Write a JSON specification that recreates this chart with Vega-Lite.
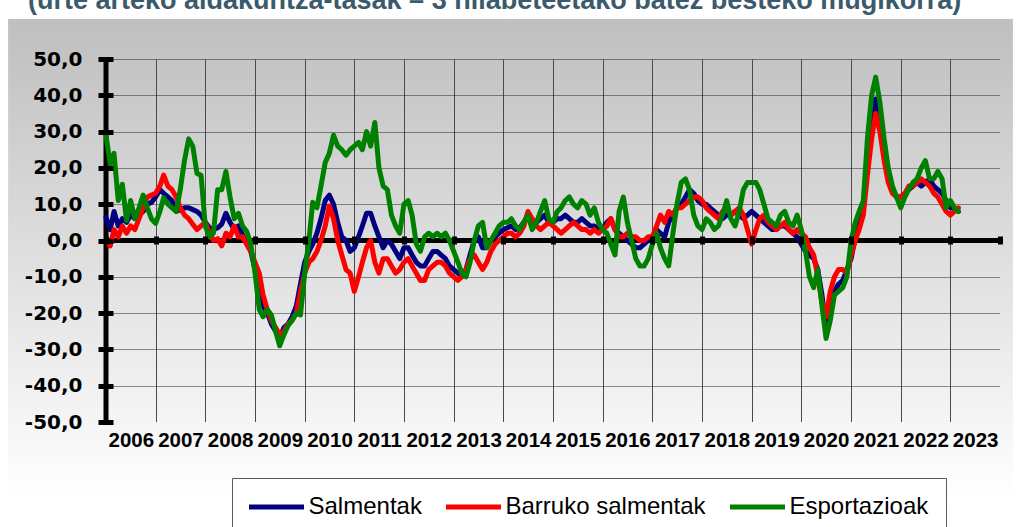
{
"$schema": "https://vega.github.io/schema/vega-lite/v6.json",
"width": 894,
"height": 363,
"autosize": {"type": "none"},
"padding": {"left": 106, "top": 59, "right": 22, "bottom": 105},
"background": "#ffffff",
"config": {
  "view": {"stroke": null, "fill": {"gradient": "linear", "x1": 0, "y1": 0, "x2": 0, "y2": 1, "stops": [{"offset": 0, "color": "#c4c4c4"}, {"offset": 1, "color": "#f5f5f5"}]}},
  "font": "Liberation Sans"
},
"title": {"text": "(urte arteko aldakuntza-tasak – 3 hilabeteetako batez besteko mugikorra)", "anchor": "start", "frame": "group", "dx": -78, "offset": 4, "font": "Liberation Sans", "fontSize": 27, "fontWeight": "bold", "color": "#3b5a6b"},
"datasets": {
"series": [
{"m":"2006-01-01","Salmentak":6.3,"Barruko salmentak":0,"Esportazioak":29},
{"m":"2006-02-01","Salmentak":3,"Barruko salmentak":-1.5,"Esportazioak":21},
{"m":"2006-03-01","Salmentak":8,"Barruko salmentak":3,"Esportazioak":24},
{"m":"2006-04-01","Salmentak":4,"Barruko salmentak":1,"Esportazioak":11},
{"m":"2006-05-01","Salmentak":6,"Barruko salmentak":4,"Esportazioak":15.5},
{"m":"2006-06-01","Salmentak":5,"Barruko salmentak":2,"Esportazioak":5.5},
{"m":"2006-07-01","Salmentak":7,"Barruko salmentak":4,"Esportazioak":11},
{"m":"2006-08-01","Salmentak":6,"Barruko salmentak":3,"Esportazioak":6},
{"m":"2006-09-01","Salmentak":7,"Barruko salmentak":6,"Esportazioak":9},
{"m":"2006-10-01","Salmentak":8,"Barruko salmentak":9,"Esportazioak":12.5},
{"m":"2006-11-01","Salmentak":10,"Barruko salmentak":12,"Esportazioak":9},
{"m":"2006-12-01","Salmentak":10.5,"Barruko salmentak":12.5,"Esportazioak":6},
{"m":"2007-01-01","Salmentak":12,"Barruko salmentak":13,"Esportazioak":4.7},
{"m":"2007-02-01","Salmentak":14,"Barruko salmentak":15,"Esportazioak":8},
{"m":"2007-03-01","Salmentak":13,"Barruko salmentak":18,"Esportazioak":11.8},
{"m":"2007-04-01","Salmentak":12,"Barruko salmentak":15,"Esportazioak":10},
{"m":"2007-05-01","Salmentak":11,"Barruko salmentak":14,"Esportazioak":9},
{"m":"2007-06-01","Salmentak":8,"Barruko salmentak":12,"Esportazioak":8},
{"m":"2007-07-01","Salmentak":8.5,"Barruko salmentak":9,"Esportazioak":14},
{"m":"2007-08-01","Salmentak":9,"Barruko salmentak":7,"Esportazioak":22},
{"m":"2007-09-01","Salmentak":9,"Barruko salmentak":6,"Esportazioak":28},
{"m":"2007-10-01","Salmentak":8.5,"Barruko salmentak":4.5,"Esportazioak":26},
{"m":"2007-11-01","Salmentak":8,"Barruko salmentak":3,"Esportazioak":18.5},
{"m":"2007-12-01","Salmentak":7,"Barruko salmentak":4,"Esportazioak":18},
{"m":"2008-01-01","Salmentak":5,"Barruko salmentak":5,"Esportazioak":4},
{"m":"2008-02-01","Salmentak":3.5,"Barruko salmentak":2,"Esportazioak":1},
{"m":"2008-03-01","Salmentak":3,"Barruko salmentak":0,"Esportazioak":2},
{"m":"2008-04-01","Salmentak":3.5,"Barruko salmentak":0.5,"Esportazioak":14},
{"m":"2008-05-01","Salmentak":4.5,"Barruko salmentak":-1.5,"Esportazioak":14},
{"m":"2008-06-01","Salmentak":7.5,"Barruko salmentak":2,"Esportazioak":19},
{"m":"2008-07-01","Salmentak":5,"Barruko salmentak":1,"Esportazioak":12},
{"m":"2008-08-01","Salmentak":3,"Barruko salmentak":4,"Esportazioak":6},
{"m":"2008-09-01","Salmentak":4,"Barruko salmentak":1,"Esportazioak":7.5},
{"m":"2008-10-01","Salmentak":1.5,"Barruko salmentak":1,"Esportazioak":4},
{"m":"2008-11-01","Salmentak":-1,"Barruko salmentak":-1,"Esportazioak":2.5},
{"m":"2008-12-01","Salmentak":-3,"Barruko salmentak":-3,"Esportazioak":-1},
{"m":"2009-01-01","Salmentak":-8,"Barruko salmentak":-6,"Esportazioak":-9},
{"m":"2009-02-01","Salmentak":-14,"Barruko salmentak":-9,"Esportazioak":-19},
{"m":"2009-03-01","Salmentak":-18,"Barruko salmentak":-15,"Esportazioak":-21},
{"m":"2009-04-01","Salmentak":-20,"Barruko salmentak":-19,"Esportazioak":-19},
{"m":"2009-05-01","Salmentak":-23,"Barruko salmentak":-22,"Esportazioak":-20.5},
{"m":"2009-06-01","Salmentak":-25,"Barruko salmentak":-24,"Esportazioak":-25},
{"m":"2009-07-01","Salmentak":-27,"Barruko salmentak":-26,"Esportazioak":-29},
{"m":"2009-08-01","Salmentak":-24,"Barruko salmentak":-25,"Esportazioak":-26},
{"m":"2009-09-01","Salmentak":-23,"Barruko salmentak":-23,"Esportazioak":-23.4},
{"m":"2009-10-01","Salmentak":-21,"Barruko salmentak":-22,"Esportazioak":-22},
{"m":"2009-11-01","Salmentak":-18,"Barruko salmentak":-20,"Esportazioak":-20},
{"m":"2009-12-01","Salmentak":-12,"Barruko salmentak":-14,"Esportazioak":-20.5},
{"m":"2010-01-01","Salmentak":-6,"Barruko salmentak":-9,"Esportazioak":-9},
{"m":"2010-02-01","Salmentak":-3,"Barruko salmentak":-6,"Esportazioak":0},
{"m":"2010-03-01","Salmentak":-1,"Barruko salmentak":-5,"Esportazioak":10.5},
{"m":"2010-04-01","Salmentak":2,"Barruko salmentak":-3,"Esportazioak":9},
{"m":"2010-05-01","Salmentak":6,"Barruko salmentak":0,"Esportazioak":15},
{"m":"2010-06-01","Salmentak":11,"Barruko salmentak":4,"Esportazioak":21.5},
{"m":"2010-07-01","Salmentak":12.5,"Barruko salmentak":9.5,"Esportazioak":24},
{"m":"2010-08-01","Salmentak":10,"Barruko salmentak":6,"Esportazioak":29},
{"m":"2010-09-01","Salmentak":5,"Barruko salmentak":0,"Esportazioak":26},
{"m":"2010-10-01","Salmentak":1,"Barruko salmentak":-4,"Esportazioak":25},
{"m":"2010-11-01","Salmentak":0,"Barruko salmentak":-8,"Esportazioak":23.5},
{"m":"2010-12-01","Salmentak":-3,"Barruko salmentak":-9,"Esportazioak":25},
{"m":"2011-01-01","Salmentak":-2,"Barruko salmentak":-14,"Esportazioak":26},
{"m":"2011-02-01","Salmentak":1,"Barruko salmentak":-10,"Esportazioak":27},
{"m":"2011-03-01","Salmentak":4,"Barruko salmentak":-6,"Esportazioak":25},
{"m":"2011-04-01","Salmentak":7.5,"Barruko salmentak":-2,"Esportazioak":30},
{"m":"2011-05-01","Salmentak":7.5,"Barruko salmentak":0,"Esportazioak":26},
{"m":"2011-06-01","Salmentak":4,"Barruko salmentak":-6,"Esportazioak":32.5},
{"m":"2011-07-01","Salmentak":1,"Barruko salmentak":-9,"Esportazioak":20},
{"m":"2011-08-01","Salmentak":-2,"Barruko salmentak":-5,"Esportazioak":15},
{"m":"2011-09-01","Salmentak":0,"Barruko salmentak":-5,"Esportazioak":14},
{"m":"2011-10-01","Salmentak":-1,"Barruko salmentak":-7,"Esportazioak":7},
{"m":"2011-11-01","Salmentak":-3,"Barruko salmentak":-9,"Esportazioak":4},
{"m":"2011-12-01","Salmentak":-5,"Barruko salmentak":-8,"Esportazioak":2},
{"m":"2012-01-01","Salmentak":-2,"Barruko salmentak":-6,"Esportazioak":10},
{"m":"2012-02-01","Salmentak":-2,"Barruko salmentak":-5,"Esportazioak":11},
{"m":"2012-03-01","Salmentak":-4,"Barruko salmentak":-7,"Esportazioak":7},
{"m":"2012-04-01","Salmentak":-6,"Barruko salmentak":-9,"Esportazioak":-1},
{"m":"2012-05-01","Salmentak":-7,"Barruko salmentak":-11,"Esportazioak":-3},
{"m":"2012-06-01","Salmentak":-7,"Barruko salmentak":-11,"Esportazioak":1},
{"m":"2012-07-01","Salmentak":-5,"Barruko salmentak":-8,"Esportazioak":2},
{"m":"2012-08-01","Salmentak":-3,"Barruko salmentak":-7,"Esportazioak":1},
{"m":"2012-09-01","Salmentak":-3,"Barruko salmentak":-6,"Esportazioak":2},
{"m":"2012-10-01","Salmentak":-4,"Barruko salmentak":-6,"Esportazioak":1},
{"m":"2012-11-01","Salmentak":-5,"Barruko salmentak":-7,"Esportazioak":2},
{"m":"2012-12-01","Salmentak":-7,"Barruko salmentak":-9,"Esportazioak":0},
{"m":"2013-01-01","Salmentak":-8,"Barruko salmentak":-10,"Esportazioak":-3},
{"m":"2013-02-01","Salmentak":-9,"Barruko salmentak":-11,"Esportazioak":-6},
{"m":"2013-03-01","Salmentak":-10,"Barruko salmentak":-10,"Esportazioak":-9},
{"m":"2013-04-01","Salmentak":-8,"Barruko salmentak":-8,"Esportazioak":-10},
{"m":"2013-05-01","Salmentak":-4,"Barruko salmentak":-5,"Esportazioak":-6},
{"m":"2013-06-01","Salmentak":0,"Barruko salmentak":-4,"Esportazioak":0},
{"m":"2013-07-01","Salmentak":1,"Barruko salmentak":-6,"Esportazioak":4},
{"m":"2013-08-01","Salmentak":-2,"Barruko salmentak":-8,"Esportazioak":5},
{"m":"2013-09-01","Salmentak":-2,"Barruko salmentak":-6,"Esportazioak":-2},
{"m":"2013-10-01","Salmentak":0,"Barruko salmentak":-3,"Esportazioak":0},
{"m":"2013-11-01","Salmentak":1,"Barruko salmentak":-1,"Esportazioak":2},
{"m":"2013-12-01","Salmentak":2,"Barruko salmentak":0,"Esportazioak":4},
{"m":"2014-01-01","Salmentak":3,"Barruko salmentak":1,"Esportazioak":5},
{"m":"2014-02-01","Salmentak":3.5,"Barruko salmentak":2,"Esportazioak":5},
{"m":"2014-03-01","Salmentak":4,"Barruko salmentak":2,"Esportazioak":6},
{"m":"2014-04-01","Salmentak":3,"Barruko salmentak":1,"Esportazioak":4},
{"m":"2014-05-01","Salmentak":3.5,"Barruko salmentak":2,"Esportazioak":3},
{"m":"2014-06-01","Salmentak":5,"Barruko salmentak":4,"Esportazioak":5},
{"m":"2014-07-01","Salmentak":7,"Barruko salmentak":8,"Esportazioak":7},
{"m":"2014-08-01","Salmentak":5,"Barruko salmentak":6,"Esportazioak":3},
{"m":"2014-09-01","Salmentak":5,"Barruko salmentak":4,"Esportazioak":5},
{"m":"2014-10-01","Salmentak":6,"Barruko salmentak":3,"Esportazioak":8},
{"m":"2014-11-01","Salmentak":7,"Barruko salmentak":4,"Esportazioak":11},
{"m":"2014-12-01","Salmentak":5,"Barruko salmentak":5,"Esportazioak":6},
{"m":"2015-01-01","Salmentak":5,"Barruko salmentak":4,"Esportazioak":5},
{"m":"2015-02-01","Salmentak":6,"Barruko salmentak":3,"Esportazioak":8},
{"m":"2015-03-01","Salmentak":6,"Barruko salmentak":2,"Esportazioak":9},
{"m":"2015-04-01","Salmentak":7,"Barruko salmentak":3,"Esportazioak":11},
{"m":"2015-05-01","Salmentak":6,"Barruko salmentak":4,"Esportazioak":12},
{"m":"2015-06-01","Salmentak":5,"Barruko salmentak":5,"Esportazioak":10},
{"m":"2015-07-01","Salmentak":5,"Barruko salmentak":4,"Esportazioak":9},
{"m":"2015-08-01","Salmentak":6,"Barruko salmentak":3,"Esportazioak":11},
{"m":"2015-09-01","Salmentak":5,"Barruko salmentak":3,"Esportazioak":10},
{"m":"2015-10-01","Salmentak":4,"Barruko salmentak":2,"Esportazioak":7},
{"m":"2015-11-01","Salmentak":4,"Barruko salmentak":3,"Esportazioak":9},
{"m":"2015-12-01","Salmentak":3,"Barruko salmentak":2,"Esportazioak":5},
{"m":"2016-01-01","Salmentak":3,"Barruko salmentak":3,"Esportazioak":3},
{"m":"2016-02-01","Salmentak":5,"Barruko salmentak":4,"Esportazioak":2},
{"m":"2016-03-01","Salmentak":6,"Barruko salmentak":6,"Esportazioak":-1},
{"m":"2016-04-01","Salmentak":3,"Barruko salmentak":3,"Esportazioak":-4},
{"m":"2016-05-01","Salmentak":2,"Barruko salmentak":1,"Esportazioak":8},
{"m":"2016-06-01","Salmentak":1,"Barruko salmentak":1,"Esportazioak":12},
{"m":"2016-07-01","Salmentak":0,"Barruko salmentak":2,"Esportazioak":5},
{"m":"2016-08-01","Salmentak":-1,"Barruko salmentak":1,"Esportazioak":0},
{"m":"2016-09-01","Salmentak":-2,"Barruko salmentak":1,"Esportazioak":-5},
{"m":"2016-10-01","Salmentak":-2,"Barruko salmentak":0,"Esportazioak":-7},
{"m":"2016-11-01","Salmentak":-1,"Barruko salmentak":0,"Esportazioak":-7},
{"m":"2016-12-01","Salmentak":0,"Barruko salmentak":1,"Esportazioak":-5},
{"m":"2017-01-01","Salmentak":1,"Barruko salmentak":1,"Esportazioak":-1},
{"m":"2017-02-01","Salmentak":3,"Barruko salmentak":4,"Esportazioak":2},
{"m":"2017-03-01","Salmentak":2,"Barruko salmentak":7,"Esportazioak":-2},
{"m":"2017-04-01","Salmentak":1,"Barruko salmentak":5,"Esportazioak":-5},
{"m":"2017-05-01","Salmentak":5,"Barruko salmentak":8,"Esportazioak":-7},
{"m":"2017-06-01","Salmentak":7,"Barruko salmentak":7,"Esportazioak":2},
{"m":"2017-07-01","Salmentak":9,"Barruko salmentak":9,"Esportazioak":10},
{"m":"2017-08-01","Salmentak":10,"Barruko salmentak":9,"Esportazioak":16},
{"m":"2017-09-01","Salmentak":12,"Barruko salmentak":10,"Esportazioak":17},
{"m":"2017-10-01","Salmentak":14,"Barruko salmentak":11,"Esportazioak":14},
{"m":"2017-11-01","Salmentak":13,"Barruko salmentak":12,"Esportazioak":7},
{"m":"2017-12-01","Salmentak":11,"Barruko salmentak":12,"Esportazioak":4},
{"m":"2018-01-01","Salmentak":10,"Barruko salmentak":11,"Esportazioak":3},
{"m":"2018-02-01","Salmentak":10,"Barruko salmentak":9,"Esportazioak":6},
{"m":"2018-03-01","Salmentak":9,"Barruko salmentak":8,"Esportazioak":5},
{"m":"2018-04-01","Salmentak":8,"Barruko salmentak":7,"Esportazioak":3},
{"m":"2018-05-01","Salmentak":7,"Barruko salmentak":6,"Esportazioak":4},
{"m":"2018-06-01","Salmentak":6,"Barruko salmentak":8,"Esportazioak":7},
{"m":"2018-07-01","Salmentak":7,"Barruko salmentak":9,"Esportazioak":11},
{"m":"2018-08-01","Salmentak":7,"Barruko salmentak":7,"Esportazioak":6},
{"m":"2018-09-01","Salmentak":8,"Barruko salmentak":8,"Esportazioak":4},
{"m":"2018-10-01","Salmentak":7,"Barruko salmentak":9,"Esportazioak":8},
{"m":"2018-11-01","Salmentak":6,"Barruko salmentak":7,"Esportazioak":14},
{"m":"2018-12-01","Salmentak":7,"Barruko salmentak":3,"Esportazioak":16},
{"m":"2019-01-01","Salmentak":8,"Barruko salmentak":-1,"Esportazioak":16},
{"m":"2019-02-01","Salmentak":7,"Barruko salmentak":3,"Esportazioak":16},
{"m":"2019-03-01","Salmentak":6,"Barruko salmentak":6,"Esportazioak":14},
{"m":"2019-04-01","Salmentak":5,"Barruko salmentak":7,"Esportazioak":10},
{"m":"2019-05-01","Salmentak":4,"Barruko salmentak":5,"Esportazioak":6},
{"m":"2019-06-01","Salmentak":3,"Barruko salmentak":4,"Esportazioak":5},
{"m":"2019-07-01","Salmentak":3,"Barruko salmentak":3,"Esportazioak":4},
{"m":"2019-08-01","Salmentak":4,"Barruko salmentak":4,"Esportazioak":7},
{"m":"2019-09-01","Salmentak":4,"Barruko salmentak":5,"Esportazioak":8},
{"m":"2019-10-01","Salmentak":3,"Barruko salmentak":3,"Esportazioak":5},
{"m":"2019-11-01","Salmentak":2,"Barruko salmentak":2,"Esportazioak":4},
{"m":"2019-12-01","Salmentak":1,"Barruko salmentak":3,"Esportazioak":7},
{"m":"2020-01-01","Salmentak":-1,"Barruko salmentak":2,"Esportazioak":3},
{"m":"2020-02-01","Salmentak":-3,"Barruko salmentak":1,"Esportazioak":-3},
{"m":"2020-03-01","Salmentak":-4,"Barruko salmentak":-2,"Esportazioak":-10},
{"m":"2020-04-01","Salmentak":-5,"Barruko salmentak":-4,"Esportazioak":-13},
{"m":"2020-05-01","Salmentak":-8,"Barruko salmentak":-10,"Esportazioak":-8},
{"m":"2020-06-01","Salmentak":-15,"Barruko salmentak":-17,"Esportazioak":-18},
{"m":"2020-07-01","Salmentak":-24,"Barruko salmentak":-21,"Esportazioak":-27},
{"m":"2020-08-01","Salmentak":-20,"Barruko salmentak":-14,"Esportazioak":-22},
{"m":"2020-09-01","Salmentak":-14,"Barruko salmentak":-10,"Esportazioak":-15},
{"m":"2020-10-01","Salmentak":-12,"Barruko salmentak":-8,"Esportazioak":-14},
{"m":"2020-11-01","Salmentak":-11,"Barruko salmentak":-8,"Esportazioak":-13},
{"m":"2020-12-01","Salmentak":-8,"Barruko salmentak":-9,"Esportazioak":-10},
{"m":"2021-01-01","Salmentak":-5,"Barruko salmentak":-4,"Esportazioak":0},
{"m":"2021-02-01","Salmentak":1,"Barruko salmentak":0,"Esportazioak":5},
{"m":"2021-03-01","Salmentak":5,"Barruko salmentak":3,"Esportazioak":8},
{"m":"2021-04-01","Salmentak":9,"Barruko salmentak":7,"Esportazioak":11},
{"m":"2021-05-01","Salmentak":24,"Barruko salmentak":18,"Esportazioak":28},
{"m":"2021-06-01","Salmentak":34,"Barruko salmentak":28,"Esportazioak":40},
{"m":"2021-07-01","Salmentak":39,"Barruko salmentak":35,"Esportazioak":45},
{"m":"2021-08-01","Salmentak":34,"Barruko salmentak":30,"Esportazioak":38},
{"m":"2021-09-01","Salmentak":26,"Barruko salmentak":22,"Esportazioak":28},
{"m":"2021-10-01","Salmentak":19,"Barruko salmentak":16,"Esportazioak":20},
{"m":"2021-11-01","Salmentak":14,"Barruko salmentak":13,"Esportazioak":15},
{"m":"2021-12-01","Salmentak":12,"Barruko salmentak":12,"Esportazioak":12},
{"m":"2022-01-01","Salmentak":12,"Barruko salmentak":12,"Esportazioak":9},
{"m":"2022-02-01","Salmentak":13,"Barruko salmentak":13,"Esportazioak":12},
{"m":"2022-03-01","Salmentak":14,"Barruko salmentak":15,"Esportazioak":14},
{"m":"2022-04-01","Salmentak":15,"Barruko salmentak":15,"Esportazioak":16},
{"m":"2022-05-01","Salmentak":16,"Barruko salmentak":16,"Esportazioak":17},
{"m":"2022-06-01","Salmentak":15,"Barruko salmentak":17,"Esportazioak":20},
{"m":"2022-07-01","Salmentak":16,"Barruko salmentak":16,"Esportazioak":22},
{"m":"2022-08-01","Salmentak":17,"Barruko salmentak":15,"Esportazioak":17},
{"m":"2022-09-01","Salmentak":15,"Barruko salmentak":13,"Esportazioak":17},
{"m":"2022-10-01","Salmentak":14,"Barruko salmentak":12,"Esportazioak":19},
{"m":"2022-11-01","Salmentak":13,"Barruko salmentak":10,"Esportazioak":17},
{"m":"2022-12-01","Salmentak":11,"Barruko salmentak":8,"Esportazioak":9},
{"m":"2023-01-01","Salmentak":9,"Barruko salmentak":7,"Esportazioak":11},
{"m":"2023-02-01","Salmentak":9,"Barruko salmentak":8,"Esportazioak":9},
{"m":"2023-03-01","Salmentak":8,"Barruko salmentak":9,"Esportazioak":8}
]
},
"layer": [
{
  "data": {"values": [{}]},
  "mark": {"type": "rect", "fill": {"gradient": "linear", "x1": 0, "y1": 0, "x2": 0, "y2": 1, "stops": [{"offset": 0, "color": "#bfbfbf"}, {"offset": 1, "color": "#c4c4c4"}]}},
  "encoding": {
    "x": {"datum": {"year": 2004, "month": 1, "date": 12, "utc": true}, "type": "temporal", "scale": {"type": "utc", "domain": [{"year": 2006, "month": 1, "date": 1, "utc": true}, {"year": 2024, "month": 1, "date": 1, "utc": true}], "nice": false}, "axis": null},
    "x2": {"datum": {"year": 2024, "month": 4, "date": 5, "utc": true}},
    "y": {"datum": 61, "type": "quantitative", "scale": {"domain": [-50, 50], "nice": false, "zero": false}, "axis": null},
    "y2": {"datum": 50}
  }
},
{
  "data": {"values": [{}]},
  "mark": {"type": "rect", "fill": {"gradient": "linear", "x1": 0, "y1": 0, "x2": 0, "y2": 1, "stops": [{"offset": 0, "color": "#c4c4c4"}, {"offset": 1, "color": "#f5f5f5"}]}},
  "encoding": {
    "x": {"datum": {"year": 2004, "month": 1, "date": 12, "utc": true}, "type": "temporal", "scale": {"type": "utc", "domain": [{"year": 2006, "month": 1, "date": 1, "utc": true}, {"year": 2024, "month": 1, "date": 1, "utc": true}], "nice": false}, "axis": null},
    "x2": {"datum": {"year": 2006, "month": 1, "date": 1, "utc": true}},
    "y": {"datum": 50, "type": "quantitative", "scale": {"domain": [-50, 50], "nice": false, "zero": false}, "axis": null},
    "y2": {"datum": -50}
  }
},
{
  "data": {"values": [{}]},
  "mark": {"type": "rect", "fill": {"gradient": "linear", "x1": 0, "y1": 0, "x2": 0, "y2": 1, "stops": [{"offset": 0, "color": "#c4c4c4"}, {"offset": 1, "color": "#f5f5f5"}]}},
  "encoding": {
    "x": {"datum": {"year": 2024, "month": 1, "date": 1, "utc": true}, "type": "temporal", "scale": {"type": "utc", "domain": [{"year": 2006, "month": 1, "date": 1, "utc": true}, {"year": 2024, "month": 1, "date": 1, "utc": true}], "nice": false}, "axis": null},
    "x2": {"datum": {"year": 2024, "month": 4, "date": 5, "utc": true}},
    "y": {"datum": 50, "type": "quantitative", "scale": {"domain": [-50, 50], "nice": false, "zero": false}, "axis": null},
    "y2": {"datum": -50}
  }
},
{
  "data": {"values": [{}]},
  "mark": {"type": "rect", "fill": {"gradient": "linear", "x1": 0, "y1": 0, "x2": 0, "y2": 1, "stops": [{"offset": 0, "color": "#f5f5f5"}, {"offset": 0.72, "color": "#ffffff"}, {"offset": 1, "color": "#ffffff"}]}},
  "encoding": {
    "x": {"datum": {"year": 2004, "month": 1, "date": 12, "utc": true}, "type": "temporal", "scale": {"type": "utc", "domain": [{"year": 2006, "month": 1, "date": 1, "utc": true}, {"year": 2024, "month": 1, "date": 1, "utc": true}], "nice": false}, "axis": null},
    "x2": {"datum": {"year": 2024, "month": 4, "date": 5, "utc": true}},
    "y": {"datum": -50, "type": "quantitative", "scale": {"domain": [-50, 50], "nice": false, "zero": false}, "axis": null},
    "y2": {"datum": -80}
  }
},
{
  "data": {"values": [{}]},
  "mark": {"type": "rule", "color": "#000000", "strokeWidth": 5},
  "encoding": {
    "x": {"datum": {"year": 2006, "month": 1, "date": 1, "utc": true}, "type": "temporal", "scale": {"type": "utc", "domain": [{"year": 2006, "month": 1, "date": 1, "utc": true}, {"year": 2024, "month": 1, "date": 1, "utc": true}], "nice": false},
      "axis": {"orient": "top", "grid": true, "gridColor": "#4a4a4a", "gridWidth": 1, "labels": false, "ticks": false, "domain": false, "title": null, "zindex": 0,
        "values": [{"year": 2007, "month": 1, "date": 1, "utc": true}, {"year": 2008, "month": 1, "date": 1, "utc": true}, {"year": 2009, "month": 1, "date": 1, "utc": true}, {"year": 2010, "month": 1, "date": 1, "utc": true}, {"year": 2011, "month": 1, "date": 1, "utc": true}, {"year": 2012, "month": 1, "date": 1, "utc": true}, {"year": 2013, "month": 1, "date": 1, "utc": true}, {"year": 2014, "month": 1, "date": 1, "utc": true}, {"year": 2015, "month": 1, "date": 1, "utc": true}, {"year": 2016, "month": 1, "date": 1, "utc": true}, {"year": 2017, "month": 1, "date": 1, "utc": true}, {"year": 2018, "month": 1, "date": 1, "utc": true}, {"year": 2019, "month": 1, "date": 1, "utc": true}, {"year": 2020, "month": 1, "date": 1, "utc": true}, {"year": 2021, "month": 1, "date": 1, "utc": true}, {"year": 2022, "month": 1, "date": 1, "utc": true}, {"year": 2023, "month": 1, "date": 1, "utc": true}, {"year": 2024, "month": 1, "date": 1, "utc": true}]}}
  }
},
{
  "data": {"values": [{}]},
  "mark": {"type": "rule", "color": "#000000", "strokeWidth": 5},
  "encoding": {
    "y": {"datum": 0, "type": "quantitative", "scale": {"domain": [-50, 50], "nice": false, "zero": false},
      "axis": {"orient": "right", "grid": true, "gridColor": "#222222", "gridWidth": 1, "gridDash": [1, 1], "labels": false, "ticks": false, "domain": false, "title": null, "zindex": 0, "values": [-50, -40, -30, -20, -10, 0, 10, 20, 30, 40, 50]}}
  }
},
{
  "data": {"name": "series"},
  "transform": [{"fold": ["Salmentak", "Barruko salmentak", "Esportazioak"], "as": ["serie", "v"]}],
  "mark": {"type": "line", "strokeWidth": 5, "strokeJoin": "round", "strokeCap": "round"},
  "encoding": {
    "x": {"field": "m", "type": "temporal", "scale": {"type": "utc", "domain": [{"year": 2006, "month": 1, "date": 1, "utc": true}, {"year": 2024, "month": 1, "date": 1, "utc": true}], "nice": false},
      "axis": {"orient": "bottom", "offset": -186, "grid": false, "domain": false, "ticks": true, "tickColor": "#000000", "tickWidth": 5, "tickSize": 8,
        "format": "%Y", "labelExpr": "datum.label == '2024' ? '' : datum.label", "labelOffset": 24.8, "labelPadding": 186.5, "labelFlush": false, "labelOverlap": false, "labelBound": false,
        "labelFont": "Liberation Sans", "labelFontSize": 20.5, "labelFontWeight": "bold", "labelColor": "#000000", "title": null, "zindex": 1,
        "values": [{"year": 2006, "month": 1, "date": 1, "utc": true}, {"year": 2007, "month": 1, "date": 1, "utc": true}, {"year": 2008, "month": 1, "date": 1, "utc": true}, {"year": 2009, "month": 1, "date": 1, "utc": true}, {"year": 2010, "month": 1, "date": 1, "utc": true}, {"year": 2011, "month": 1, "date": 1, "utc": true}, {"year": 2012, "month": 1, "date": 1, "utc": true}, {"year": 2013, "month": 1, "date": 1, "utc": true}, {"year": 2014, "month": 1, "date": 1, "utc": true}, {"year": 2015, "month": 1, "date": 1, "utc": true}, {"year": 2016, "month": 1, "date": 1, "utc": true}, {"year": 2017, "month": 1, "date": 1, "utc": true}, {"year": 2018, "month": 1, "date": 1, "utc": true}, {"year": 2019, "month": 1, "date": 1, "utc": true}, {"year": 2020, "month": 1, "date": 1, "utc": true}, {"year": 2021, "month": 1, "date": 1, "utc": true}, {"year": 2022, "month": 1, "date": 1, "utc": true}, {"year": 2023, "month": 1, "date": 1, "utc": true}, {"year": 2024, "month": 1, "date": 1, "utc": true}]}},
    "y": {"field": "v", "type": "quantitative", "scale": {"domain": [-50, 50], "nice": false, "zero": false},
      "axis": {"orient": "left", "offset": -7, "grid": false, "domain": false, "ticks": true, "tickColor": "#000000", "tickWidth": 5, "tickSize": 15,
        "labelExpr": "datum.value + ',0'", "labelPadding": 16, "labelFont": "DejaVu Sans", "labelFontSize": 20, "labelFontWeight": "bold", "labelColor": "#000000", "labelBound": false, "labelOverlap": false, "title": null, "zindex": 1,
        "values": [-50, -40, -30, -20, -10, 0, 10, 20, 30, 40, 50]}},
    "color": {"field": "serie", "type": "nominal",
      "scale": {"domain": ["Salmentak", "Barruko salmentak", "Esportazioak"], "range": ["#000080", "#ff0000", "#008000"]},
      "legend": {"orient": "none", "legendX": 126, "legendY": 419, "direction": "horizontal", "title": null,
        "symbolType": "M-2.18,0H7.82", "symbolSize": 121, "symbolStrokeWidth": 5, "labelOffset": 35.5, "columnPadding": 14, "padding": 17,
        "labelFont": "Liberation Sans", "labelFontSize": 24, "labelColor": "#000000", "labelLimit": 400,
        "fillColor": "#ffffff", "strokeColor": "#595959"}}
  }
}
],
"resolve": {"axis": {"x": "independent", "y": "independent"}}
}
